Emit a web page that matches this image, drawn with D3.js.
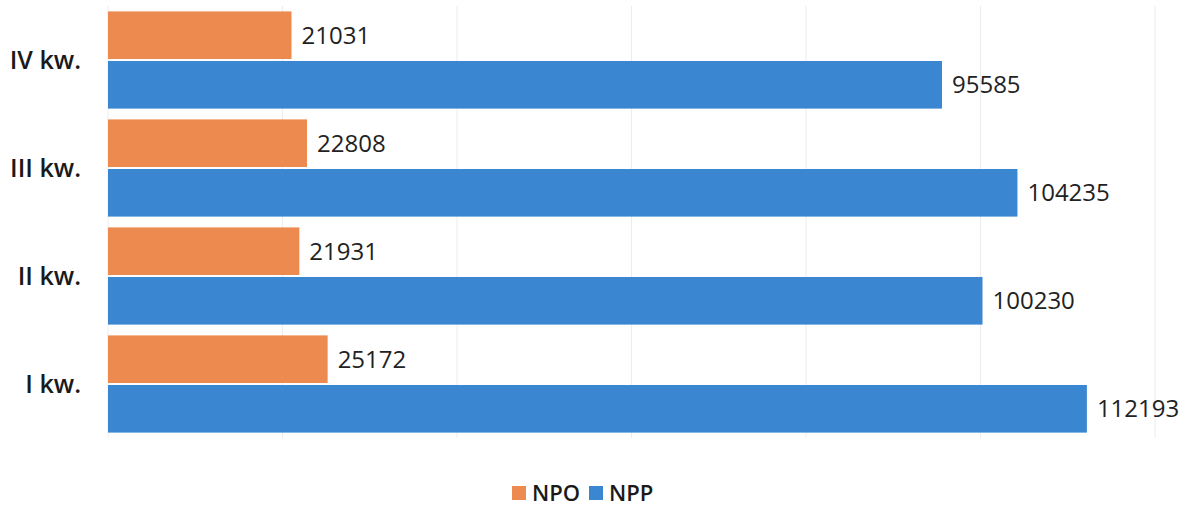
<!DOCTYPE html>
<html>
<head>
<meta charset="utf-8">
<script src="https://cdn.jsdelivr.net/npm/d3@7"></script>
<style>
  body { margin: 0; background: #fff; }
  text { font-family: "Open Sans", "Liberation Sans", sans-serif; }
</style>
</head>
<body>
<div id="chart"></div>
<script>
var svgWidth = 1185;
var svgHeight = 507;

// data, top to bottom as drawn
var quarters = ["IV kw.", "III kw.", "II kw.", "I kw."];
var seriesNames = ["NPO", "NPP"];
var npo = [21031, 22808, 21931, 25172];
var npp = [95585, 104235, 100230, 112193];
var xTicks = [0, 20000, 40000, 60000, 80000, 100000, 120000];
var colors = ["#ec8a50", "#3a86d1"];

var svg = d3.select("#chart")
    .append("svg")
    .attr("width", svgWidth)
    .attr("height", svgHeight);

var x = d3.scaleLinear()
    .domain([0, 120000])
    .range([108, 1155]);

var y0 = d3.scaleBand()
    .domain(quarters)
    .range([6, 438])
    .paddingInner(0.1)
    .paddingOuter(0.05);

var y1 = d3.scaleBand()
    .domain(seriesNames)
    .range([0, y0.bandwidth()])
    .paddingInner(0.04);

// gridlines
svg.append("g")
    .selectAll("line")
    .data(xTicks)
    .enter()
    .append("line")
    .attr("x1", d => x(d))
    .attr("x2", d => x(d))
    .attr("y1", 6)
    .attr("y2", 438)
    .attr("stroke", "#ececf0")
    .attr("stroke-width", 1);

var rows = quarters.map((q, i) => ({q: q, vals: [npo[i], npp[i]]}));

var groups = svg.selectAll(".grp")
    .data(rows)
    .enter()
    .append("g")
    .attr("class", "grp")
    .attr("transform", d => `translate(0,${y0(d.q)})`);

var bars = groups.selectAll(".bar")
    .data(d => d.vals.map((v, j) => ({name: seriesNames[j], v: v, j: j})))
    .enter();

bars.append("rect")
    .attr("x", x(0))
    .attr("y", d => y1(d.name))
    .attr("width", d => x(d.v) - x(0))
    .attr("height", y1.bandwidth())
    .attr("fill", d => colors[d.j]);

bars.append("text")
    .attr("x", d => x(d.v) + 10)
    .attr("y", d => y1(d.name) + y1.bandwidth() / 2)
    .attr("dy", "0.36em")
    .attr("font-size", 24)
    .attr("fill", "#222")
    .text(d => d.v);

// category labels
svg.append("g")
    .selectAll("text")
    .data(quarters)
    .enter()
    .append("text")
    .attr("x", 81)
    .attr("y", d => y0(d) + y0.bandwidth() / 2)
    .attr("dy", "0.36em")
    .attr("text-anchor", "end")
    .attr("font-size", 25)
    .attr("font-weight", 600)
    .attr("fill", "#1a1a1a")
    .text(d => d);

// legend
var legend = svg.append("g").attr("transform", "translate(512,493)");
var lx = [0, 77];
seriesNames.forEach(function(n, i) {
  var g = legend.append("g").attr("transform", `translate(${lx[i]},0)`);
  g.append("rect")
    .attr("x", 0).attr("y", -7)
    .attr("width", 14).attr("height", 14)
    .attr("fill", colors[i]);
  g.append("text")
    .attr("x", 20).attr("y", 0)
    .attr("dy", "0.36em")
    .attr("font-size", 22)
    .attr("font-weight", 600)
    .attr("fill", "#1a1a1a")
    .text(n);
});
</script>
</body>
</html>
